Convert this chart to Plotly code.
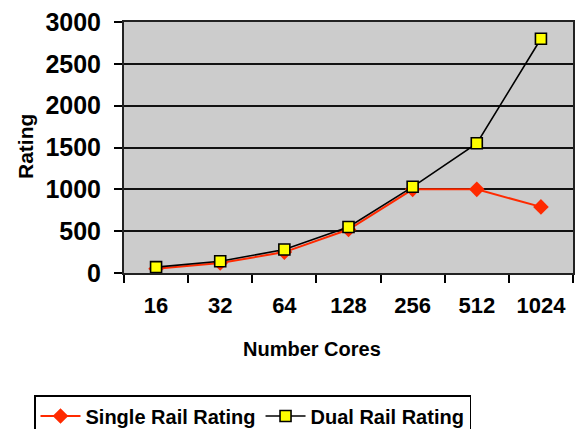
import plotly.graph_objects as go

# Rating by core count for the two rail configurations
cores = ["16", "32", "64", "128", "256", "512", "1024"]
single_rail = [50, 120, 250, 520, 1000, 1000, 790]
dual_rail = [70, 140, 280, 550, 1030, 1550, 2800]
y_ticks = [0, 500, 1000, 1500, 2000, 2500, 3000]

FONT = "Liberation Sans, Arial, sans-serif"

L, R, T, B = 124, 8, 22, 156
W, H = 581, 429
PW, PH = W - L - R, H - T - B

fig = go.Figure()
fig.add_trace(go.Scatter(
    x=cores, y=single_rail, name="Single Rail Rating", mode="lines+markers",
    line=dict(color="#FF2A00", width=2),
    marker=dict(symbol="diamond", size=12, color="#FF2A00",
                line=dict(color="#FF2A00", width=0)),
))
fig.add_trace(go.Scatter(
    x=cores, y=dual_rail, name="Dual Rail Rating", mode="lines+markers",
    line=dict(color="#000000", width=1.6),
    marker=dict(symbol="square", size=11, color="#FFFF00",
                line=dict(color="#000000", width=1.6)),
))

fig.update_layout(
    width=W, height=H,
    margin=dict(l=L, r=R, t=T, b=B, autoexpand=False),
    paper_bgcolor="white",
    plot_bgcolor="#CCCCCC",
    font=dict(family=FONT, size=20, color="black"),
    showlegend=True,
    legend=dict(
        orientation="h", x=(34 - L) / PW, xanchor="left",
        y=(PH + T - 395) / PH, yanchor="top",
        bgcolor="white", bordercolor="black", borderwidth=1.5,
        font=dict(family=FONT, size=20, color="black", weight="bold"),
        itemwidth=40, tracegroupgap=0,
    ),
)

fig.update_xaxes(
    type="category", categoryorder="array", categoryarray=cores,
    tickson="boundaries", ticks="outside", ticklen=8, tickwidth=1.5,
    tickcolor="black", showgrid=False, tickangle=0,
    showline=True, linecolor="#222222", linewidth=2, mirror=True,
    tickfont=dict(family=FONT, size=22, weight="bold"),
    ticklabelstandoff=12,
    range=[-0.5, 6.5],
)
fig.update_yaxes(
    range=[0, 3000], tickvals=y_ticks, ticks="outside", ticklen=8,
    tickwidth=1.5, tickcolor="black",
    showgrid=True, gridcolor="#111111", gridwidth=1.5, zeroline=False,
    showline=True, linecolor="#222222", linewidth=2, mirror=True,
    tickfont=dict(family=FONT, size=25, weight="bold"),
    ticklabelstandoff=8,
)

# axis titles placed as annotations in pixel-derived paper coordinates
fig.add_annotation(
    text="Number Cores", xref="paper", yref="paper",
    x=(312 - L) / PW, y=(PH + T - 349) / PH,
    xanchor="center", yanchor="middle", showarrow=False,
    font=dict(family=FONT, size=20, color="black", weight="bold"),
)
fig.add_annotation(
    text="Rating", xref="paper", yref="paper",
    x=(25 - L) / PW, y=(PH + T - 147) / PH, textangle=-90,
    xanchor="center", yanchor="middle", showarrow=False,
    font=dict(family=FONT, size=21, color="black", weight="bold"),
)

fig.write_html("out.html")
